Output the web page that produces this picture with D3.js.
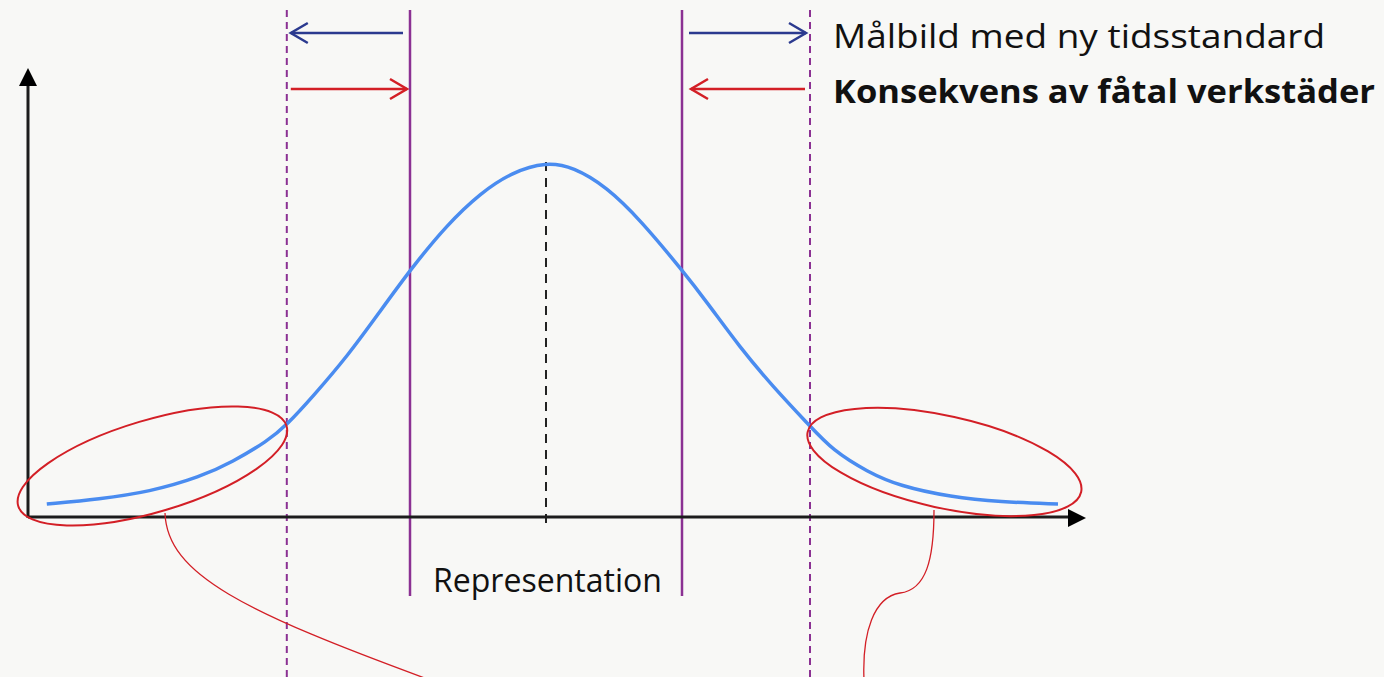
<!DOCTYPE html>
<html><head><meta charset="utf-8">
<script src="https://cdn.jsdelivr.net/npm/d3@7"></script>
<style>
html,body{margin:0;padding:0;background:#f8f8f6;}
svg{display:block;}
</style></head>
<body>
<script>
// Curve values (x in σ-units around the mean, y as density)
const curveX = [-3.12,-2.79,-2.48,-2.16,-1.96,-1.74,-1.62,-1.46,-1.24,-1.04,-0.84,-0.62,-0.41,-0.21,0,0.17,0.38,0.59,0.85,1.01,1.21,1.42,1.65,1.79,2.01,2.21,2.53,2.84,3.2];
const curveY = [0.0146,0.0203,0.0282,0.0451,0.0620,0.0856,0.1037,0.1352,0.1814,0.2310,0.2806,0.3290,0.3651,0.3887,0.4,0.3944,0.3718,0.3346,0.2783,0.2411,0.1916,0.1465,0.1025,0.0755,0.0507,0.0349,0.0225,0.0169,0.0146];
const meanX = 0;
const solidLines = [-0.85, 0.85];     // "Representation" limits
const dashedLines = [-1.62, 1.65];    // target limits
const legendTexts = ["Målbild med ny tidsstandard", "Konsekvens av fåtal verkstäder"];
const axisLabel = "Representation";
const tailEllipses = [ {cx:-2.46, cy:0.0575, rot:-16.6}, {cx:2.49, cy:0.062, rot:12.4} ];

const W = 1384, H = 677;
const svg = d3.select("body").append("svg").attr("width", W).attr("height", H);
svg.append("rect").attr("width", W).attr("height", H).attr("fill", "#f8f8f6");

const x = d3.scaleLinear().domain([-3.2375, 3.375]).range([28, 1086]);
const y = d3.scaleLinear().domain([0, 0.4]).range([517, 162]);

const purple = "#8b3193", blue = "#2b3a8f", red = "#d31f26", curveCol = "#4a8cf0";

// vertical guide lines
svg.selectAll(".dash").data(dashedLines).join("line")
  .attr("x1", d => x(d)).attr("x2", d => x(d)).attr("y1", 10).attr("y2", H)
  .attr("stroke", purple).attr("stroke-width", 2).attr("stroke-dasharray", "7,5");
svg.selectAll(".solid").data(solidLines).join("line")
  .attr("x1", d => x(d)).attr("x2", d => x(d)).attr("y1", 10).attr("y2", 596)
  .attr("stroke", purple).attr("stroke-width", 2.5);

// mean dashed line
svg.append("line").attr("x1", x(meanX)).attr("x2", x(meanX))
  .attr("y1", y(0.4)).attr("y2", 528)
  .attr("stroke", "#222").attr("stroke-width", 2).attr("stroke-dasharray", "9,7");

// axes
const axCol = "#1c1c1c";
svg.append("line").attr("x1", x(-3.2375)).attr("x2", 1072).attr("y1", y(0)).attr("y2", y(0))
  .attr("stroke", axCol).attr("stroke-width", 3);
svg.append("path").attr("d", `M1086,${y(0)+1} L1068,${y(0)-8} L1068,${y(0)+10} Z`).attr("fill", "#000");
svg.append("line").attr("x1", x(-3.2375)).attr("x2", x(-3.2375)).attr("y1", y(0)+1).attr("y2", 82)
  .attr("stroke", axCol).attr("stroke-width", 3);
svg.append("path").attr("d", `M${x(-3.2375)},68 L${x(-3.2375)-9},86 L${x(-3.2375)+9},86 Z`).attr("fill", "#000");

// bell curve
const pts = curveX.map((d, i) => [d, curveY[i]]);
svg.append("path").datum(pts)
  .attr("d", d3.line().x(d => x(d[0])).y(d => y(d[1])).curve(d3.curveBasis))
  .attr("fill", "none").attr("stroke", curveCol).attr("stroke-width", 3.5);

// ellipses
tailEllipses.forEach(e => {
  svg.append("ellipse").attr("cx", 0).attr("cy", 0).attr("rx", 140).attr("ry", 46)
    .attr("transform", `translate(${x(e.cx)},${y(e.cy)}) rotate(${e.rot})`)
    .attr("fill", "none").attr("stroke", red).attr("stroke-width", 2);
});

// callout lines
svg.append("path").attr("d", "M165,513 C167,575 245,612 430,680")
  .attr("fill", "none").attr("stroke", red).attr("stroke-width", 1.3);
svg.append("path").attr("d", "M934,510 C934,560 926,590 900,593 C874,597 862,632 864,680")
  .attr("fill", "none").attr("stroke", red).attr("stroke-width", 1.3);

// horizontal arrows
function arrow(x1, x2, yy, col) {
  svg.append("line").attr("x1", x1).attr("x2", x2).attr("y1", yy).attr("y2", yy)
    .attr("stroke", col).attr("stroke-width", 2.5);
  const dir = x2 > x1 ? 1 : -1;
  svg.append("path").attr("d", `M${x2 - dir*17},${yy-10} L${x2},${yy} L${x2 - dir*17},${yy+10}`)
    .attr("fill", "none").attr("stroke", col).attr("stroke-width", 2.5);
}
arrow(x(solidLines[0]) - 7, x(dashedLines[0]) + 4, 33, blue);
arrow(x(solidLines[1]) + 7, x(dashedLines[1]) - 4, 33, blue);
arrow(x(dashedLines[0]) + 4, x(solidLines[0]) - 3, 89, red);
arrow(x(dashedLines[1]) - 5, x(solidLines[1]) + 9, 89, red);

// texts
const font = "'Open Sans', 'Noto Sans', sans-serif";
svg.append("text").attr("x", 833).attr("y", 48).text(legendTexts[0])
  .attr("font-family", font).attr("font-size", 32).attr("fill", "#111")
  .attr("textLength", 492).attr("lengthAdjust", "spacingAndGlyphs");
svg.append("text").attr("x", 833).attr("y", 103).text(legendTexts[1])
  .attr("font-family", font).attr("font-size", 32).attr("font-weight", "bold").attr("fill", "#111")
  .attr("textLength", 542).attr("lengthAdjust", "spacingAndGlyphs");
svg.append("text").attr("x", 433).attr("y", 592).text(axisLabel)
  .attr("font-family", font).attr("font-size", 32).attr("fill", "#111")
  .attr("textLength", 229).attr("lengthAdjust", "spacingAndGlyphs");
</script>
</body></html>
